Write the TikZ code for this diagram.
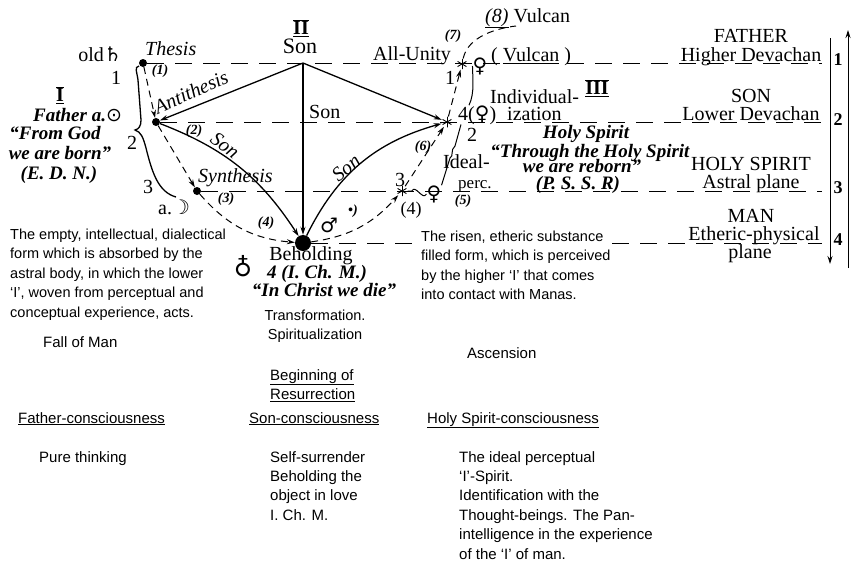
\documentclass[tikz,border=0pt]{standalone}
\usepackage{fontspec}
\setmainfont{Liberation Serif}
\setsansfont{Liberation Sans}
\newfontfamily\astrofont{DejaVu Sans}
\usetikzlibrary{arrows.meta, calc}
\newcommand{\romnum}[1]{$\overline{\underline{\hbox{\bfseries #1}}}$}

\begin{document}
\begin{tikzpicture}[x=1pt, y=-1pt, >={Stealth[length=8pt, width=5pt]},
    plane/.style={font=\fontsize{20}{22}\selectfont, inner sep=0pt},
    bi/.style={font=\fontsize{19}{21}\selectfont\bfseries\itshape, inner sep=0pt},
    hand/.style={font=\fontsize{20}{22}\selectfont\itshape, inner sep=0pt},
    stepno/.style={font=\fontsize{14}{16}\selectfont\bfseries\itshape, inner sep=0pt},
    sym/.style={font=\astrofont\fontsize{20}{22}\selectfont, inner sep=0pt},
    prose/.style={font=\sffamily\fontsize{14.5}{19.5}\selectfont, align=left, inner sep=0pt, anchor=north west},
    lower/.style={font=\sffamily\fontsize{15}{19.4}\selectfont, align=left, inner sep=0pt},
    dot/.style={circle, fill=black, inner sep=0pt, minimum size=8pt},
    bigdot/.style={circle, fill=black, inner sep=0pt, minimum size=16pt},
    astmark/.style={circle, inner sep=0pt, minimum size=11pt, path picture={
        \foreach \a in {90,30,150}
          \draw[line width=0.9pt] ([shift={(\a:6pt)}]path picture bounding box.center) -- ([shift={(\a+180:6pt)}]path picture bounding box.center);}},
    level/.style={line width=0.9pt, dash pattern=on 17pt off 11pt},
    son/.style={->, line width=1.3pt},
    stage/.style={->, line width=1pt, dash pattern=on 7pt off 5pt}]
  \useasboundingbox (0,0) rectangle (856,563);

  % points on the four planes
  \node[dot] (thesis) at (143,63) {};
  \node[dot] (anti) at (156,122) {};
  \node[dot] (synth) at (197,191) {};
  \node[bigdot] (behold) at (303,243) {};
  \coordinate (sonpt) at (303,63);
  \node[astmark] (st1) at (462,64) {};
  \node[astmark] (st2) at (447,122) {};
  \node[astmark] (st3) at (402,191) {};
  \node[sym] (ven1) at (480,66) {♀};
  \node[sym] (ven3) at (434,194) {♀};

  \coordinate (e1) at (822,63);
  \coordinate (e2) at (822,122);
  \coordinate (e3) at (822,191);
  \coordinate (e4a) at (412,243);
  \coordinate (e4b) at (612,243);
  \coordinate (e4) at (822,243);

  % planes
  \draw[level] (thesis) -- (e1);
  \draw[level] (anti) -- (e2);
  \draw[level] (synth) -- (e3);
  \draw[level] (behold) -- (e4a);
  \draw[level] (e4b) -- (e4);

  % the Son
  \draw[son] (sonpt) -- (anti);
  \draw[son] (sonpt) -- (behold);
  \draw[son] (sonpt) -- (st2);
  \draw[son] (anti) to[bend left=18] (behold);
  \draw[son] (behold) to[bend left=24] (st2);

  % stages
  \draw[stage] (thesis) -- (anti);
  \draw[stage] (anti) -- (synth);
  \draw[stage] (synth) to[bend right=22] (behold);
  \draw[stage] (behold) to[bend right=20] (st3);
  \draw[stage] (st3) -- (st2);
  \draw[stage] (st2) -- (st1);
  \node[plane, anchor=base west] (vulc8) at (485,22) {\textit{\underline{(8)}} Vulcan};
  \coordinate (v8end) at (516,26);
  \draw[line width=1pt, dash pattern=on 7pt off 5pt] (st1) .. controls +(6,-28) and +(-18,2) .. (v8end);

  % left side
  \node[plane, anchor=base east] (old) at (122,61) {old\astrofont ♄};
  \node[hand, anchor=base west] (thesislbl) at (145,55) {Thesis};
  \node[hand, rotate=24] (antilbl) at (191,92) {Antithesis};
  \node[hand, anchor=base west] (synthlbl) at (198,182) {Synthesis};
  \node[stepno] (s1) at (160,71) {(1)};
  \node[stepno] (s2) at (194,131) {(2)};
  \node[stepno] (s3) at (226,199) {(3)};
  \node[stepno] (s4) at (266,223) {(4)};
  \node[hand, rotate=-37] (sonleft) at (225,145) {Son};
  \draw[line width=1.3pt] (139,66) .. controls (134,67) and (137,72) .. (138,80)
    -- (141,120) .. controls (141,126) and (139,129) .. (135,130)
    .. controls (141,132) and (143,137) .. (146,148)
    .. controls (152,172) and (158,192) .. (176,197);
  \node[plane] (n1) at (116,78) {1};
  \node[plane] (n2) at (132,143) {2};
  \node[plane] (n3) at (148,187) {3};
  \node[plane, anchor=base west] (moon) at (158,214) {a.{\astrofont ☽}};
  \node[plane] (rom1) at (60,95) {\romnum{I}};
  \node[bi, anchor=base west] (father) at (33,121) {Father a.{\normalfont\astrofont ⊙}};
  \node[bi, anchor=base] (god1) at (55,139) {“From God};
  \node[bi, anchor=base] (god2) at (60,159) {we are born”};
  \node[bi, anchor=base] (edn) at (59,179) {(E. D. N.)};

  % centre
  \node[plane] (rom2) at (301,28) {\romnum{II}};
  \node[plane, font=\fontsize{22}{24}\selectfont, anchor=base] (sontop) at (300,53) {Son};
  \node[plane, anchor=base west] (unity) at (373,60) {All-Unity};
  \node[plane, anchor=base west] (sonmid) at (309,118) {Son};
  \node[hand, rotate=40] (sonright) at (346,168) {Son};
  \node[sym] (mars) at (329,225) {♂};
  \node[stepno, anchor=base] (marsend) at (353,214) {\textbullet)};
  \node[sym, font=\astrofont\fontsize{25}{27}\selectfont] (earth) at (243,266) {♁};
  \node[plane, anchor=base] (beholdlbl) at (311,260) {Beholding};
  \node[bi, anchor=base] (icm) at (317,278) {4 (I. Ch. M.)};
  \node[bi, anchor=base] (die) at (324,296) {“In Christ we die”};
  \node[lower, font=\sffamily\fontsize{14.5}{19}\selectfont, align=center, anchor=north] (transf) at (315,310) {Transformation.\\Spiritualization};

  % right of the centre
  \node[stepno] (s7) at (453,36) {(7)};
  \node[plane, anchor=base west] (vulc) at (491,61) {( \underline{Vulcan} )};
  \node[plane] (r1) at (450,78) {1};
  \node[plane, anchor=base west] (four) at (458,120) {4({\astrofont ♀})};
  \node[plane] (r2) at (472,135) {2};
  \node[plane] (r3) at (400,180) {3};
  \node[plane, font=\fontsize{18}{20}\selectfont] (r4) at (411,210) {(4)};
  \node[stepno] (s5) at (463,201) {(5)};
  \node[stepno] (s6) at (423,147) {(6)};
  \draw[line width=1pt] (st3.east) -- ++(4,0) .. controls +(4,-7) and +(-4,7) .. (ven3.west);
  \draw[line width=1pt] (ven3.north east) -- (450,158) .. controls (454,156) and (450,150) .. (455,146) -- ([xshift=3pt]four.south west);
  \draw[line width=1pt] ([xshift=11pt]four.north west) .. controls +(6,-12) and +(0,10) .. (ven1.west);
  \node[plane, anchor=base west] (indiv) at (490,103) {Individual-};
  \node[plane, anchor=base west] (ization) at (507,120) {ization};
  \node[plane] (rom3) at (597,88) {\romnum{III}};
  \node[plane, anchor=base west] (ideal) at (443,168) {Ideal-};
  \node[plane, font=\fontsize{17}{19}\selectfont, anchor=base west] (perc) at (458,188) {perc.};
  \node[bi, anchor=base] (hs) at (586,138) {Holy Spirit};
  \node[bi, anchor=base] (through) at (590,157) {“Through the Holy Spirit};
  \node[bi, anchor=base] (reborn) at (582,172) {we are reborn”};
  \node[bi, anchor=base] (pssr) at (578,189) {(P. S. S. R)};

  % planes on the right
  \node[plane, anchor=base] (fa) at (751,42) {FATHER};
  \node[plane, anchor=base] (hd) at (751,61) {Higher Devachan};
  \node[plane, anchor=base] (so) at (751,102) {SON};
  \node[plane, anchor=base] (ld) at (751,120) {Lower Devachan};
  \node[plane, anchor=base] (hsp) at (751,170) {HOLY SPIRIT};
  \node[plane, anchor=base] (ap) at (751,188) {Astral plane};
  \node[plane, anchor=base] (man) at (751,222) {MAN};
  \node[plane, anchor=base] (ep) at (754,240) {Etheric-physical};
  \node[plane, anchor=base] (epl) at (750,258) {plane};
  \node[plane, font=\fontsize{18}{20}\selectfont\bfseries] (p1) at (838,60) {1};
  \node[plane, font=\fontsize{18}{20}\selectfont\bfseries] (p2) at (838,120) {2};
  \node[plane, font=\fontsize{18}{20}\selectfont\bfseries] (p3) at (838,188) {3};
  \node[plane, font=\fontsize{18}{20}\selectfont\bfseries] (p4) at (838,240) {4};
  \coordinate (dtop) at (830,38);
  \coordinate (dbot) at (830,264);
  \coordinate (ubot) at (848,268);
  \coordinate (utop) at (848,30);
  \draw[->, line width=1pt] (dtop) -- (dbot);
  \draw[->, line width=1pt] (ubot) -- (utop);

  % commentary
  \node[prose] (empty) at (10,228.5) {The empty, intellectual, dialectical\\form which is absorbed by the\\astral body, in which the lower\\‘I’, woven from perceptual and\\conceptual experience, acts.};
  \node[prose] (risen) at (421,230.5) {The risen, etheric substance\\filled form, which is perceived\\by the higher ‘I’ that comes\\into contact with Manas.};
  \node[lower, anchor=base west] (fall) at (43,347) {Fall of Man};
  \node[lower, anchor=base west] (asc) at (467,358) {Ascension};
  \node[lower, anchor=north west] (begin) at (270,369) {\underline{Beginning of}\\\underline{Resurrection}};
  \node[lower, anchor=base west] (fc) at (18,423) {\underline{Father-consciousness}};
  \node[lower, anchor=base west] (sc) at (249,423) {\underline{Son-consciousness}};
  \node[lower, anchor=base west] (hc) at (427,423) {\underline{Holy Spirit-consciousness}};
  \node[lower, anchor=base west] (pure) at (39,462) {Pure thinking};
  \node[lower, anchor=north west] (self) at (270,451) {Self-surrender\\Beholding the\\object in love\\I. Ch. M.};
  \node[lower, anchor=north west] (ideal2) at (459,451) {The ideal perceptual\\‘I’-Spirit.\\Identification with the\\Thought-beings. The Pan-\\intelligence in the experience\\of the ‘I’ of man.};
\end{tikzpicture}
\end{document}
